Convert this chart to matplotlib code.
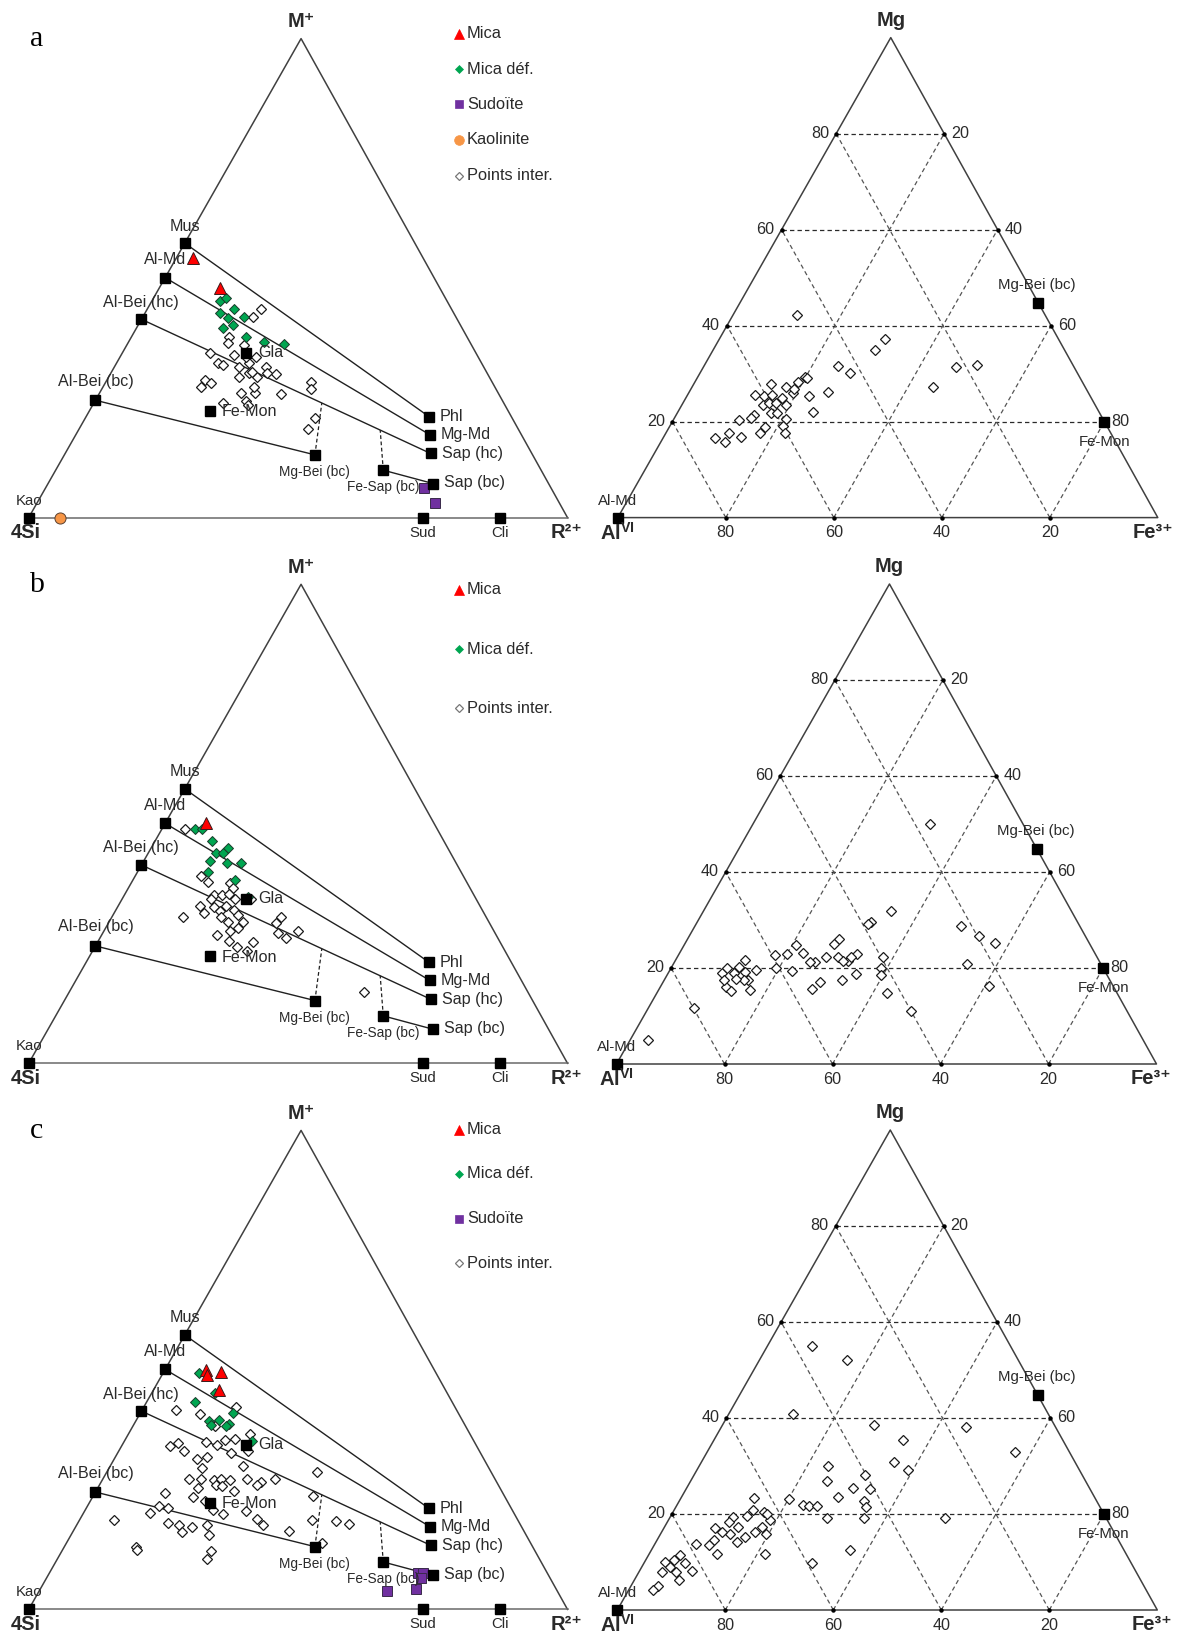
import numpy as np
import matplotlib
matplotlib.use('Agg')
import matplotlib.pyplot as plt

plt.rcParams['font.family'] = ['Liberation Sans', 'DejaVu Sans']
plt.rcParams['mathtext.fontset'] = 'custom'
plt.rcParams['mathtext.rm'] = 'Liberation Sans'
plt.rcParams['mathtext.bf'] = 'Liberation Sans:bold'
plt.rcParams['mathtext.it'] = 'Liberation Sans:italic'

# ---------------- DATA ----------------
# Left diagrams (M+ - 4Si - R2+): values in % of M+ and R2+ (4Si = remainder)
ref_left_names = ['Mus', 'Al-Md', 'Al-Bei (hc)', 'Al-Bei (bc)', 'Kao', 'Phl', 'Mg-Md',
                  'Sap (hc)', 'Sap (bc)', 'Mg-Bei (bc)', 'Fe-Sap (bc)', 'Fe-Mon', 'Gla',
                  'Sud', 'Cli']
ref_left_M = [57.3, 50.1, 41.4, 24.5, 0.0, 21.1, 17.3, 13.4, 7.1, 13.1, 9.9, 22.3, 34.4, 0.0, 0.0]
ref_left_R = [0.0, 0.0, 0.0, 0.0, 0.0, 63.6, 65.7, 67.8, 71.5, 46.5, 60.8, 22.4, 23.0, 73.1, 87.4]
tie_lines = [('Mus', 'Phl'), ('Al-Md', 'Mg-Md'), ('Al-Bei (hc)', 'Sap (hc)'),
             ('Al-Bei (bc)', 'Mg-Bei (bc)'), ('Fe-Sap (bc)', 'Sap (bc)')]
dashed_from = ['Mg-Bei (bc)', 'Fe-Sap (bc)']
dashed_t = [0.624, 0.826]   # position along the Al-Bei (hc) - Sap (hc) join

# Right diagrams (AlVI - Mg - Fe3+): values in % of Mg and Fe3+
ref_right_names = ['Al-Md', 'Mg-Bei (bc)', 'Fe-Mon']
ref_right_Mg = [0.0, 44.8, 20.0]
ref_right_Fe = [0.0, 55.2, 80.0]
grid_ticks = [20, 40, 60, 80]

# ---- panel a ----
a_mica_M = [54.1, 48.0]
a_mica_R = [3.1, 11.3]
a_micadef_M = [45.3, 45.8, 42.8, 43.5, 41.9, 41.6, 40.2, 39.5, 37.6, 36.6, 36.2]
a_micadef_R = [12.6, 13.5, 13.9, 16.1, 18.7, 15.9, 17.6, 16.1, 21.3, 25.1, 29.0]
a_sud_M = [6.1, 3.0]
a_sud_R = [70.3, 73.8]
a_kao_M = [0.0]
a_kao_R = [5.8]
a_inter_M = [43.5, 41.8, 37.8, 36.5, 34.3, 32.2, 31.9, 34.0, 36.0, 31.5, 32.2, 33.6, 31.5, 29.9,
             30.1, 29.4, 29.4, 30.1, 28.7, 28.2, 27.3, 26.1, 26.1, 27.2, 25.7, 28.4, 26.8, 23.9,
             24.4, 23.5, 20.7, 18.4, 33.6, 30.5]
a_inter_R = [21.1, 20.5, 18.0, 18.6, 16.4, 18.9, 19.9, 21.0, 21.8, 23.2, 24.7, 25.2, 28.1, 30.7,
             25.7, 27.6, 24.2, 29.1, 18.3, 19.6, 18.2, 26.2, 28.8, 28.1, 33.9, 38.0, 38.9, 23.9,
             28.0, 28.9, 42.7, 42.5, 23.4, 26.1]
a_right_Mg = [42.2, 37.3, 34.9, 31.5, 30.1, 31.4, 31.8, 27.2, 26.2, 25.3, 21.9, 29.2, 28.2, 27.3,
              25.9, 27.8, 25.5, 25.3, 25.5, 23.4, 23.8, 23.9, 23.4, 25.0, 21.8, 21.7, 21.3, 20.8,
              20.4, 20.6, 19.0, 18.9, 17.6, 17.6, 16.6, 17.6, 15.7, 16.7, 26.7, 29.1]
a_right_Fe = [11.8, 30.7, 30.0, 24.9, 27.7, 46.7, 50.4, 44.7, 25.6, 22.6, 25.1, 19.9, 19.2, 17.3,
              19.3, 14.3, 12.5, 14.3, 15.6, 15.0, 16.0, 17.2, 19.3, 17.7, 17.3, 18.6, 14.4, 14.2,
              12.1, 20.7, 20.9, 17.7, 17.4, 22.1, 9.7, 11.7, 12.0, 14.4, 19.2, 20.4]

# ---- panel b ----
b_mica_M = [50.1]
b_mica_R = [7.6]
b_micadef_M = [48.9, 48.9, 46.5, 44.0, 44.9, 43.8, 42.3, 41.8, 41.8, 40.0, 38.3, 34.8]
b_micadef_R = [6.1, 7.5, 10.5, 12.6, 14.3, 13.9, 12.2, 15.7, 18.3, 13.0, 18.9, 23.1]
b_inter_M = [48.9, 39.0, 37.9, 37.6, 36.5, 35.1, 35.1, 35.3, 34.2, 34.2, 34.2, 32.8, 31.3, 32.7,
             31.7, 32.8, 31.9, 30.6, 29.6, 31.0, 29.4, 28.2, 27.7, 30.6, 26.8, 25.6, 24.2, 23.5,
             25.4, 30.6, 29.2, 27.1, 26.1, 27.7, 14.8]
b_inter_R = [4.2, 12.3, 14.1, 18.3, 19.4, 16.7, 18.2, 19.4, 21.0, 24.0, 16.5, 15.3, 16.8, 17.9,
             19.4, 20.0, 21.9, 20.2, 22.0, 23.1, 24.9, 24.5, 23.4, 13.1, 21.4, 24.3, 26.4, 28.6,
             28.8, 31.3, 31.1, 32.5, 34.5, 35.9, 54.7]
b_right_Mg = [50.0, 31.8, 29.5, 29.2, 28.7, 26.6, 25.2, 20.8, 16.2, 11.1, 14.8, 22.3, 19.9, 18.5,
              23.0, 21.4, 18.7, 17.6, 26.1, 24.9, 22.3, 22.3, 21.5, 22.3, 21.3, 21.3, 23.1, 24.7,
              22.9, 22.7, 20.1, 19.4, 17.0, 15.7, 21.6, 19.5, 20.2, 18.9, 19.9, 19.0, 19.2, 17.5,
              17.5, 15.4, 16.1, 15.2, 17.5, 17.8, 11.6, 5.0]
b_right_Fe = [32.8, 34.7, 32.3, 31.8, 49.2, 53.7, 57.3, 54.4, 60.7, 48.9, 42.7, 38.0, 38.9, 39.6,
              32.9, 32.0, 34.9, 32.9, 28.1, 27.6, 29.7, 27.5, 31.0, 32.2, 25.9, 25.0, 22.8, 20.8,
              20.0, 17.9, 19.4, 22.7, 29.0, 28.2, 12.9, 16.0, 12.4, 9.9, 10.4, 12.1, 14.0, 15.5,
              14.7, 17.0, 12.1, 13.6, 11.1, 13.1, 8.5, 3.3]

# ---- panel c ----
c_mica_M = [50.0, 48.9, 49.5, 45.7]
c_mica_R = [7.7, 8.4, 10.6, 12.2]
c_micadef_M = [49.3, 45.1, 43.2, 41.1, 39.3, 39.5, 38.7, 38.3, 38.5, 35.2]
c_micadef_R = [6.7, 11.8, 9.1, 17.1, 13.6, 15.3, 17.7, 17.3, 14.4, 23.6]
c_sud_M = [7.5, 7.5, 6.5, 4.2, 3.9]
c_sud_R = [68.4, 69.4, 69.5, 69.8, 64.6]
c_inter_M = [42.3, 41.6, 40.8, 38.2, 36.6, 34.1, 34.8, 33.1, 35.0, 34.3, 35.4, 35.5, 32.6, 31.3,
             31.8, 29.9, 29.5, 27.3, 27.2, 27.0, 27.2, 27.0, 27.2, 26.7, 26.0, 27.2, 28.6, 25.4,
             26.0, 25.8, 24.8, 24.2, 23.4, 22.7, 20.8, 19.9, 20.6, 18.8, 17.6, 23.7, 18.7, 18.5,
             17.8, 16.4, 13.8, 18.7, 20.1, 21.5, 21.1, 18.1, 17.6, 16.2, 17.3, 17.6, 15.5, 13.0,
             12.5, 12.1, 10.5, 33.1]
c_inter_R = [17.0, 6.3, 11.1, 15.2, 22.5, 8.9, 10.1, 12.1, 15.2, 17.7, 18.6, 20.4, 21.0, 15.4,
             17.0, 24.7, 17.2, 15.9, 18.3, 20.8, 21.9, 23.7, 26.8, 29.6, 29.3, 32.0, 39.1, 18.6,
             21.6, 22.9, 25.6, 13.1, 18.7, 21.2, 23.6, 26.0, 30.0, 32.9, 34.6, 40.7, 43.2, 47.6,
             50.4, 40.1, 47.5, 6.4, 12.4, 13.3, 15.1, 16.7, 19.0, 20.3, 21.5, 24.2, 25.6, 13.3,
             13.8, 27.8, 27.8, 23.9]
c_right_Mg = [55.1, 52.0, 40.8, 38.6, 38.1, 35.5, 30.8, 29.2, 30.1, 26.8, 28.2, 25.4, 25.2, 23.5,
              22.8, 21.4, 19.1, 19.2, 19.2, 12.6, 9.7, 23.2, 21.8, 21.6, 21.6, 11.6, 23.3, 20.9,
              20.4, 18.7, 17.3, 16.2, 19.5, 19.4, 18.3, 17.3, 15.2, 14.2, 15.9, 16.2, 17.1, 14.5,
              13.5, 11.7, 13.8, 11.4, 10.4, 10.0, 9.0, 9.7, 8.2, 7.9, 7.9, 6.2, 5.0, 4.1, 15.9,
              20.0, 33.0]
c_right_Fe = [8.2, 16.3, 12.0, 28.1, 45.3, 34.9, 35.7, 39.1, 23.8, 25.2, 31.6, 30.9, 34.0, 28.9,
              34.1, 35.3, 36.1, 29.2, 50.9, 36.7, 31.2, 20.1, 23.3, 24.5, 26.1, 21.5, 13.6, 14.6,
              16.8, 18.9, 18.0, 17.3, 14.2, 11.7, 11.4, 13.6, 16.0, 14.9, 12.9, 11.2, 9.5, 10.6,
              10.1, 12.5, 7.6, 5.9, 5.3, 3.8, 5.2, 7.7, 9.6, 6.9, 4.3, 8.2, 5.1, 4.6, 19.5,
              17.6, 57.0]

legend_a = ['Mica', 'Mica déf.', 'Sudoïte', 'Kaolinite', 'Points inter.']
legend_b = ['Mica', 'Mica déf.', 'Points inter.']
legend_c = ['Mica', 'Mica déf.', 'Sudoïte', 'Points inter.']
panel_letters = ['a', 'b', 'c']

# ---------------- STYLE ----------------
TXT = '#2a2a2a'
EDGE = '#404040'
APEX = 0.5055   # apex slightly right of the base midpoint in the source figure
styles = {
    'Mica': dict(marker='^', ms=8.5, mfc='#ff0000', mec='#3a1a1a', mew=0.7),
    'Mica déf.': dict(marker='D', ms=5.4, mfc='#00a651', mec='#1a3a2a', mew=0.7),
    'Sudoïte': dict(marker='s', ms=7.4, mfc='#7030a0', mec='#3a2a4a', mew=0.7),
    'Kaolinite': dict(marker='o', ms=8.0, mfc='#f79646', mec='#5a4030', mew=0.7),
    'Points inter.': dict(marker='D', ms=5.3, mfc='white', mec='#1a1a1a', mew=0.9),
}
legend_styles = {
    'Mica': dict(marker='^', ms=7, mfc='#ff0000', mec='#ff0000', mew=0.5),
    'Mica déf.': dict(marker='D', ms=4.5, mfc='#00a651', mec='#00a651', mew=0.5),
    'Sudoïte': dict(marker='s', ms=6.2, mfc='#7030a0', mec='#7030a0', mew=0.5),
    'Kaolinite': dict(marker='o', ms=7, mfc='#f79646', mec='#f79646', mew=0.5),
    'Points inter.': dict(marker='D', ms=4.5, mfc='white', mec='#777777', mew=0.9),
}
FS = 11.6
left_label_pos = {
    'Mus': (0, 17, 'center', FS), 'Al-Md': (0, 18, 'center', FS),
    'Al-Bei (hc)': (-1, 17, 'center', FS), 'Al-Bei (bc)': (0, 19, 'center', FS),
    'Kao': (0, 17, 'center', 10.8), 'Phl': (11, 0, 'left', FS), 'Mg-Md': (11, 0, 'left', FS),
    'Sap (hc)': (11, 0, 'left', FS), 'Sap (bc)': (11, 1, 'left', FS),
    'Mg-Bei (bc)': (0, -17, 'center', 9.8), 'Fe-Sap (bc)': (0, -17, 'center', 9.8),
    'Fe-Mon': (11, -1, 'left', FS), 'Gla': (12, 0, 'left', FS),
    'Sud': (0, -15, 'center', 10.8), 'Cli': (0, -15, 'center', 10.8),
}
right_label_pos = {
    'Al-Md': (0, 17, 'center', 10.8), 'Mg-Bei (bc)': (-1, 18, 'center', 10.8),
    'Fe-Mon': (0, -20, 'center', 10.8),
}

W_PX, H_PX = 1182, 1636
fig = plt.figure(figsize=(W_PX / 100, H_PX / 100), dpi=100)
overlay = fig.add_axes([0, 0, 1, 1])
overlay.set_xlim(0, W_PX)
overlay.set_ylim(H_PX, 0)
overlay.axis('off')


def tri_axes(x0, ybase, w, h):
    ax = fig.add_axes([x0 / W_PX, (H_PX - ybase) / H_PX, w / W_PX, h / H_PX])
    ax.set_xlim(0, 1)
    ax.set_ylim(0, 1)
    ax.axis('off')
    return ax


def cart_left(M, R):
    M = np.asarray(M, float) / 100.0
    R = np.asarray(R, float) / 100.0
    return R + M * APEX, M


def cart_right(Mg, Fe):
    Mg = np.asarray(Mg, float) / 100.0
    Fe = np.asarray(Fe, float) / 100.0
    return Fe + Mg * APEX, Mg


def label(ax, s, xy, dx, dy, ha, fs, **kw):
    ax.annotate(s, xy=xy, xytext=(dx, dy), textcoords='offset pixels', ha=ha, va='center',
                fontsize=fs, color=TXT, annotation_clip=False, zorder=8, **kw)


def draw_left(ax, series):
    ax.plot([0, APEX, 1], [0, 1, 0], color=EDGE, lw=1.1, clip_on=False, zorder=1)
    ax.plot([0, 1], [0, 0], color='#6a6a6a', lw=1.1, clip_on=False, zorder=1)
    ref = {n: cart_left(m, r) for n, m, r in zip(ref_left_names, ref_left_M, ref_left_R)}
    for p, q in tie_lines:
        ax.plot([ref[p][0], ref[q][0]], [ref[p][1], ref[q][1]], color='#202020', lw=1.0,
                clip_on=False, zorder=2)
    a0, a1 = np.array(ref['Al-Bei (hc)']), np.array(ref['Sap (hc)'])
    for n, t in zip(dashed_from, dashed_t):
        top = a0 + t * (a1 - a0)
        ax.plot([ref[n][0], top[0]], [ref[n][1], top[1]], color='#202020', lw=0.9,
                ls=(0, (3, 2)), clip_on=False, zorder=2)
    order = ['Points inter.', 'Mica déf.', 'Mica', 'Sudoïte', 'Kaolinite']
    for key in order:
        if key in series:
            M, R = series[key]
            x, y = cart_left(M, R)
            ax.plot(x, y, ls='none', clip_on=False, zorder=4, **styles[key])
    for n in ref_left_names:
        x, y = ref[n]
        ax.plot([x], [y], marker='s', ms=7.2, color='black', ls='none', clip_on=False, zorder=6)
        dx, dy, ha, fs = left_label_pos[n]
        label(ax, n, (x, y), dx, dy, ha, fs)
    label(ax, 'M\u207a', (APEX, 1), 0, 17, 'center', 14.5, fontweight='bold')
    label(ax, '4Si', (0, 0), -3, -15, 'center', 14.5, fontweight='bold')
    label(ax, 'R\u00b2\u207a', (1, 0), -1, -15, 'center', 14.5, fontweight='bold')


def draw_right(ax, Mg, Fe):
    ax.plot([0, APEX, 1, 0], [0, 1, 0, 0], color=EDGE, lw=1.1, clip_on=False, zorder=1)
    for k in grid_ticks:
        x, y = cart_right([k, k], [0, 100 - k])
        ax.plot(x, y, color='#2a2a2a', lw=0.9, ls=(0, (3.5, 2.5)), zorder=1, clip_on=False)
        x, y = cart_right([0, 100 - k], [k, k])
        ax.plot(x, y, color='#555555', lw=0.9, ls=(0, (3.5, 2.5)), zorder=1, clip_on=False)
        x, y = cart_right([0, 100 - k], [100 - k, 0])
        ax.plot(x, y, color='#555555', lw=0.9, ls=(0, (3.5, 2.5)), zorder=1, clip_on=False)
        xl, yl = cart_right(k, 0)
        xr, yr = cart_right(k, 100 - k)
        xb, yb = cart_right(0, k)
        ax.plot([xl, xr, xb], [yl, yr, yb], ls='none', marker='o', ms=2.2, color='black',
                clip_on=False, zorder=3)
        label(ax, str(k), (xl, yl), -7, 0, 'right', FS)
        label(ax, str(100 - k), (xr, yr), 7, 0, 'left', FS)
        label(ax, str(100 - k), (xb, yb), 0, -15, 'center', FS)
    x, y = cart_right(Mg, Fe)
    ax.plot(x, y, ls='none', clip_on=False, zorder=4, **styles['Points inter.'])
    for n, m, f in zip(ref_right_names, ref_right_Mg, ref_right_Fe):
        xr, yr = cart_right(m, f)
        ax.plot([xr], [yr], marker='s', ms=7.2, color='black', ls='none', clip_on=False, zorder=6)
        dx, dy, ha, fs = right_label_pos[n]
        label(ax, n, (xr, yr), dx, dy, ha, fs)
    label(ax, 'Mg', (APEX, 1), 0, 17, 'center', 14.5, fontweight='bold')
    label(ax, r'$\mathbf{Al^{VI}}$', (0, 0), 0, -15, 'center', 14.5)
    label(ax, 'Fe\u00b3\u207a', (1, 0), -5, -15, 'center', 14.5, fontweight='bold')


def draw_legend(items, x, ys):
    for it, y in zip(items, ys):
        overlay.plot([x], [y], ls='none', clip_on=False, **legend_styles[it])
        overlay.text(x + 8, y, it, ha='left', va='center', fontsize=11.8, color=TXT)


left_geom = [(28.7, 517.6), (28.7, 1063.3), (28.7, 1609.4)]
right_geom = [(617.8, 517.6), (616.5, 1064.0), (617.3, 1610.0)]

panels = [
    ({'Points inter.': (a_inter_M, a_inter_R), 'Mica déf.': (a_micadef_M, a_micadef_R),
      'Mica': (a_mica_M, a_mica_R), 'Sudoïte': (a_sud_M, a_sud_R),
      'Kaolinite': (a_kao_M, a_kao_R)}, (a_right_Mg, a_right_Fe), legend_a,
     [33.7, 69.2, 104.3, 140.0, 176.0]),
    ({'Points inter.': (b_inter_M, b_inter_R), 'Mica déf.': (b_micadef_M, b_micadef_R),
      'Mica': (b_mica_M, b_mica_R)}, (b_right_Mg, b_right_Fe), legend_b,
     [589.5, 649.0, 708.4]),
    ({'Points inter.': (c_inter_M, c_inter_R), 'Mica déf.': (c_micadef_M, c_micadef_R),
      'Mica': (c_mica_M, c_mica_R), 'Sudoïte': (c_sud_M, c_sud_R)},
     (c_right_Mg, c_right_Fe), legend_c, [1130.0, 1173.5, 1218.6, 1263.0]),
]

for i, (series, rdata, leg, leg_y) in enumerate(panels):
    lx, lb = left_geom[i]
    axl = tri_axes(lx, lb, 538.8, 479)
    draw_left(axl, series)
    rx, rb = right_geom[i]
    axr = tri_axes(rx, rb, 540, 480)
    draw_right(axr, *rdata)
    draw_legend(leg, 459, leg_y)
    overlay.text(30, 46.5 + i * 545.5, panel_letters[i], ha='left', va='baseline',
                 fontsize=21.5, family=['Liberation Serif', 'DejaVu Serif'], color='black')

fig.savefig('out.png', dpi=100)
